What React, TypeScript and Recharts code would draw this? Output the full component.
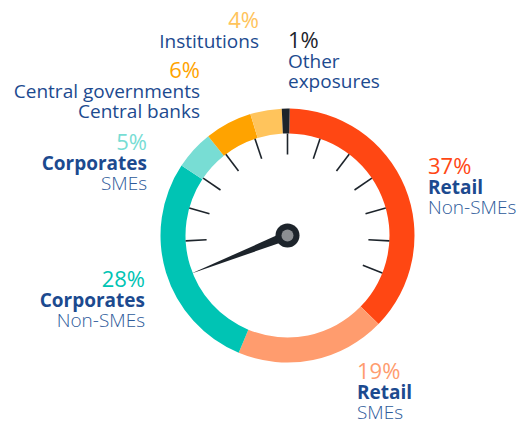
import { PieChart, Pie, Cell, Customized } from "recharts";

// exposure split, clockwise from the top of the dial
const segments = ["Retail Non-SMEs", "Retail SMEs", "Corporates Non-SMEs", "Corporates SMEs", "Central governments", "Institutions", "Other exposures"];
const shares = [37, 19, 28, 5, 6, 4, 1];
const titles = [["Retail"], ["Retail"], ["Corporates"], ["Corporates"], ["Central governments", "Central banks"], ["Institutions"], ["Other", "exposures"]];
const subtitles = [["Non-SMEs"], ["SMEs"], ["Non-SMEs"], ["SMEs"], [], [], []];
const dialTicks = [1, 2, 3, 4, 5, 6, 7, 8, 9, 10, 11, 12];

const colors = ["#ff4713", "#ff9c6e", "#00c4b4", "#78ddd4", "#ffa300", "#ffc45c", "#1d242b"];
const NAVY = "#1c4a8f";
const FONT = "'Open Sans', sans-serif";

const CX = 287.5;
const CY = 235.5;
const RAD = Math.PI / 180;
const NEEDLE_ANGLE = 201.6;

// label anchor (x of the aligned edge, baseline of percent line) per segment
const labelPos: { x: number; y: number; anchor: "start" | "end" }[] = [
  { x: 428, y: 174, anchor: "start" },
  { x: 357, y: 379, anchor: "start" },
  { x: 145, y: 287, anchor: "end" },
  { x: 147, y: 150, anchor: "end" },
  { x: 200, y: 78, anchor: "end" },
  { x: 259, y: 28, anchor: "end" },
  { x: 288, y: 48, anchor: "start" },
];

const pt = (r: number, a: number) => ({ x: CX + r * Math.cos(-a * RAD), y: CY + r * Math.sin(-a * RAD) });

const data = segments.map((name, i) => ({ name, value: shares[i] }));
const tickData = dialTicks.map((t) => ({ name: `t${t}`, value: 1 }));

function SegmentLabel(props: any) {
  const i = props.index;
  const p = labelPos[i];
  const lines = [
    ...titles[i].map((t) => ({ t, w: t === "Retail" || t === "Corporates" ? 700 : 500, c: NAVY })),
    ...subtitles[i].map((t) => ({ t, w: 300, c: "#2d5a9a" })),
  ];
  return (
    <g style={{ fontFamily: FONT }}>
      <text x={p.x} y={p.y} textAnchor={p.anchor} fontSize={22} fill={colors[i]} fontWeight={400}>
        {shares[i]}%
      </text>
      {lines.map((l, k) => (
        <text key={k} x={p.x} y={p.y + 20 * (k + 1)} textAnchor={p.anchor} fontSize={19} fontWeight={l.w} fill={l.c}>
          {l.t}
        </text>
      ))}
    </g>
  );
}

function TickMark(props: any) {
  const a = pt(props.innerRadius, props.midAngle);
  const b = pt(props.outerRadius, props.midAngle);
  return <line x1={a.x} y1={a.y} x2={b.x} y2={b.y} stroke="#1d242b" strokeWidth={1.6} />;
}

function Needle() {
  const tip = pt(104, NEEDLE_ANGLE);
  const l = pt(4.5, NEEDLE_ANGLE + 90);
  const r = pt(4.5, NEEDLE_ANGLE - 90);
  return (
    <g>
      <polygon points={`${l.x},${l.y} ${tip.x},${tip.y} ${r.x},${r.y}`} fill="#1d242b" />
      <circle cx={CX} cy={CY} r={12} fill="#1d242b" />
      <circle cx={CX} cy={CY} r={6} fill="#8b8e92" />
    </g>
  );
}

export default function App() {
  return (
    <div style={{ position: "absolute", left: 0, top: 0 }}>
      <PieChart width={522} height={421} margin={{ top: 0, right: 0, bottom: 0, left: 0 }}>
        <Pie
          data={data}
          dataKey="value"
          cx={CX}
          cy={CY}
          innerRadius={102}
          outerRadius={127}
          startAngle={89}
          endAngle={-271}
          stroke="none"
          label={SegmentLabel}
          labelLine={false}
          isAnimationActive={false}
        >
          {data.map((d, i) => (
            <Cell key={d.name} fill={colors[i]} />
          ))}
        </Pie>
        <Pie
          data={tickData}
          dataKey="value"
          cx={CX}
          cy={CY}
          innerRadius={81}
          outerRadius={102}
          startAngle={192.3}
          endAngle={-30.9}
          fill="none"
          stroke="none"
          label={TickMark}
          labelLine={false}
          isAnimationActive={false}
        />
        <Customized component={<Needle />} />
      </PieChart>
    </div>
  );
}
